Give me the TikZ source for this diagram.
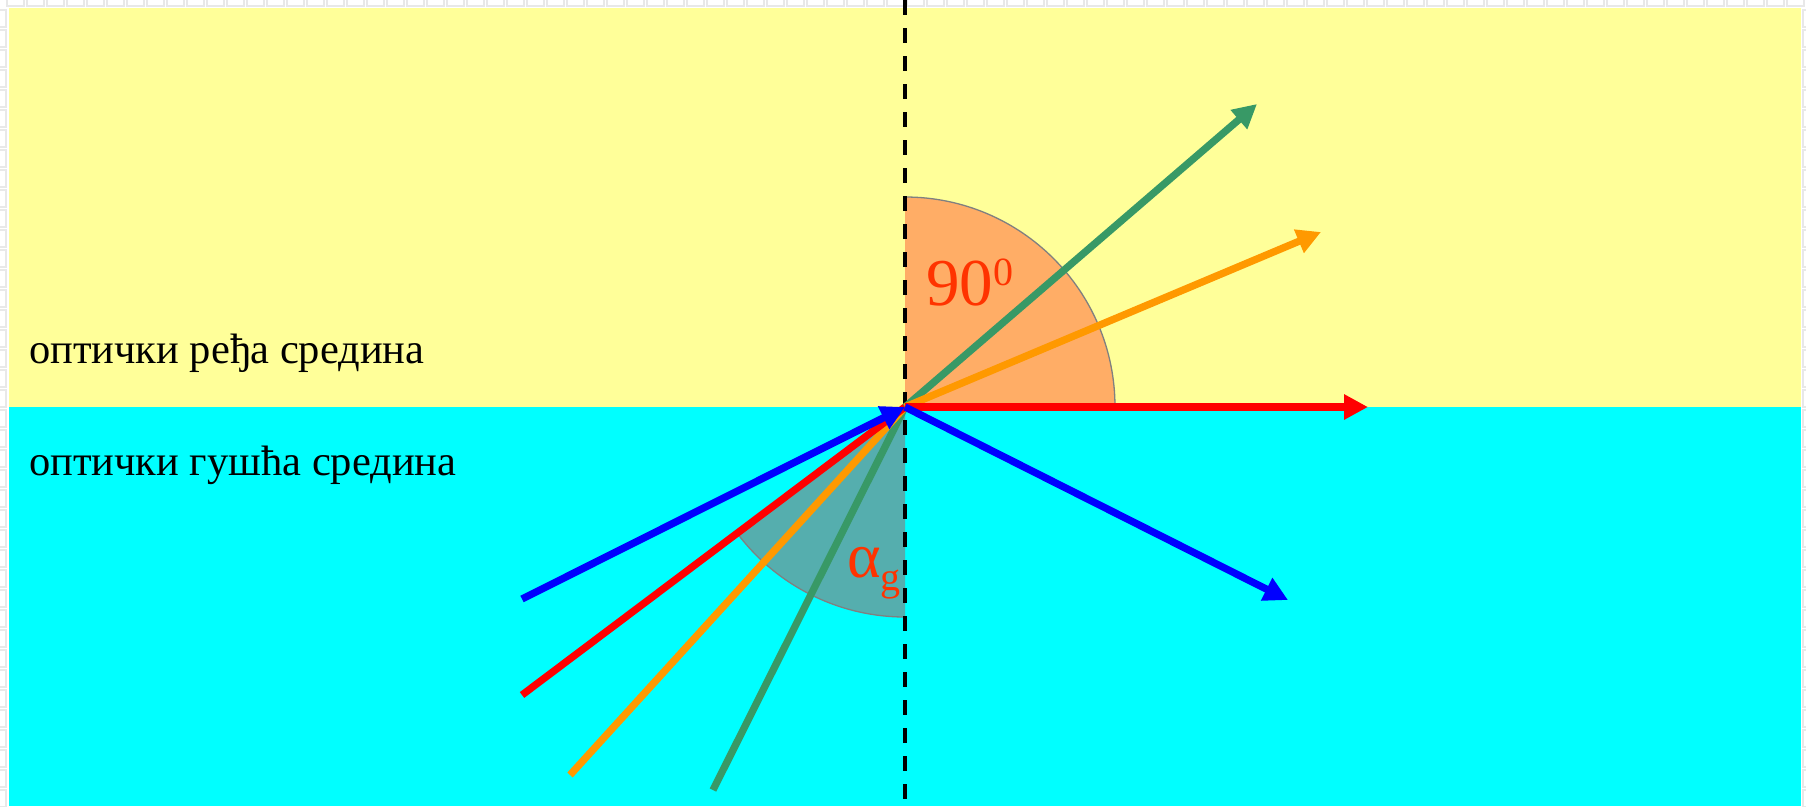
\documentclass[tikz,border=0pt]{standalone}
\usepackage{fontspec}
\setmainfont{Liberation Serif}
\usetikzlibrary{arrows.meta}
\definecolor{bgyellow}{HTML}{FFFF99}
\definecolor{bgcyan}{HTML}{00FFFF}
\definecolor{secorange}{HTML}{FFAD66}
\definecolor{secteal}{HTML}{55AEAE}
\definecolor{raygreen}{HTML}{389966}
\definecolor{rayorange}{HTML}{FF9900}
\definecolor{labred}{HTML}{FF3300}
\definecolor{tilegray}{HTML}{E8E8E8}
\tikzset{
  ray/.style={line width=7.3pt},
  tip/.style={-{Triangle[length=24pt,width=24pt]}},
  sector/.style={draw=gray, line width=1.3pt},
  medium/.style={font=\fontsize{42.5}{42.5}\selectfont, anchor=base west, inner sep=0pt},
  anglelab/.style={text=labred, anchor=base west, inner sep=0pt},
  tile/.style={draw=tilegray, line width=1.2pt, fill=white},
}
\begin{document}
\begin{tikzpicture}[x=1pt,y=-1pt]
\useasboundingbox (0,0) rectangle (1806,806);
\fill[white] (0,0) rectangle (1806,806);
% transparency grid in margins
\foreach \i in {0,...,90}{
  \draw[tile] ({20*\i+7},-3) rectangle ({20*\i+24},6);
}
\foreach \j in {0,...,40}{
  \draw[tile] (-3,{20*\j+10}) rectangle (6,{20*\j+27});
  \draw[tile] (1803,{20*\j+10}) rectangle (1812,{20*\j+27});
}
% media
\fill[bgyellow] (9,8) rectangle (1801,407);
\fill[bgcyan] (9,407) rectangle (1801,806);
% key points
\coordinate (O) at (905,407);
\coordinate (top) at (905,0);
\coordinate (bot) at (905,806);
\coordinate (bIn) at (522,599);
\coordinate (rIn) at (522,695);
\coordinate (oIn) at (570,775);
\coordinate (gIn) at (713,790);
\coordinate (gOut) at (1257,104);
\coordinate (oOut) at (1321,232);
\coordinate (rOut) at (1368,407);
\coordinate (bOut) at (1288,600);
% angle sectors
\fill[secorange] (O) -- ++(-90:210) arc[start angle=-90, end angle=0, radius=210] -- cycle;
\draw[sector] (O) ++(-90:210) arc[start angle=-90, end angle=0, radius=210];
\fill[secteal] (O) -- ++(90:210) arc[start angle=90, end angle=143, radius=210] -- cycle;
\draw[sector] (O) ++(90:210) arc[start angle=90, end angle=143, radius=210];
% normal
\draw[line width=4.5pt, dash pattern=on 15pt off 13pt] (top) -- (bot);
% rays
\draw[ray, raygreen] (gIn) -- (O);
\draw[ray, rayorange] (oIn) -- (O);
\draw[ray, red] (rIn) -- (O);
\draw[ray, blue, tip] (bIn) -- (O);
\draw[ray, raygreen, tip] (O) -- (gOut);
\draw[ray, rayorange, tip] (O) -- (oOut);
\draw[ray, red, tip] (O) -- (rOut);
\draw[ray, blue, tip] (O) -- (bOut);
% labels
\node[medium] (rare) at (29,363) {оптички ређа средина};
\node[medium] (dense) at (29,475) {оптички гушћа средина};
\node[anglelab] (ninety) at (926,305) {\fontsize{67}{67}\selectfont 90\raisebox{20pt}{\fontsize{40}{40}\selectfont 0}};
\node[anglelab] (alpha) at (847,577) {\fontsize{64}{64}\selectfont α\raisebox{-13pt}{\fontsize{40}{40}\selectfont g}};
\end{tikzpicture}
\end{document}
